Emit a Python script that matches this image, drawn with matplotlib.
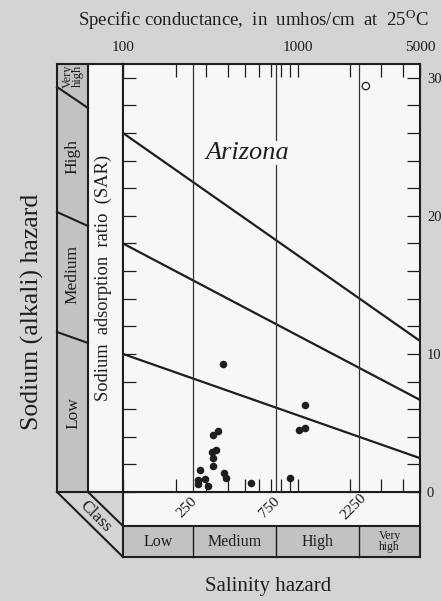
import matplotlib
matplotlib.use("Agg")
import matplotlib.pyplot as plt
from matplotlib.patches import Rectangle
from matplotlib.ticker import FixedLocator, FixedFormatter, NullFormatter

plt.rcParams['font.family'] = ['Liberation Serif', 'DejaVu Serif']
plt.rcParams['mathtext.fontset'] = 'custom'
plt.rcParams['mathtext.rm'] = 'Liberation Serif'

# samples: specific conductance (umhos/cm at 25C) and sodium adsorption ratio
cond = [372, 351, 329, 339, 324, 327, 327, 275, 377, 388, 267, 294, 270, 305,
        538, 1099, 1020, 1099, 902]
sar = [9.3, 4.4, 4.1, 3.05, 2.9, 2.45, 1.85, 1.6, 1.35, 1.05, 0.85, 0.95, 0.6, 0.45,
       0.65, 6.3, 4.5, 4.6, 1.0]
open_cond = [2450]
open_sar = [29.4]

# sodium hazard class boundaries, SAR at 100 and 5000 umhos
line_cond = [100, 5000]
line_sar = [[10.0, 2.45], [18.0, 6.67], [26.0, 10.94]]

# salinity hazard classes
class_bounds = [100, 250, 750, 2250, 5000]
class_labels = ['250', '750', '2250']
salinity_classes = ['Low', 'Medium', 'High', 'Very\nhigh']
sodium_classes = ['Very\nhigh', 'High', 'Medium', 'Low']

x_major = [100, 1000, 5000]
x_minor = [200, 300, 400, 500, 600, 700, 800, 900, 2000, 3000, 4000]
y_major = [0, 10, 20, 30]
y_minor = list(range(2, 31, 2))

BG = '#d4d4d4'
GRAY = '#c2c2c2'
WHITE = '#f7f7f7'
INK = '#1e1e1e'

fig = plt.figure(figsize=(4.42, 6.01), dpi=100, facecolor=BG)

# frame in pixel units for the box drawing around the chart
fr = fig.add_axes([0, 0, 1, 1])
fr.set_xlim(0, 442)
fr.set_ylim(601, 0)
fr.axis('off')
fr.add_patch(Rectangle((57, 64), 31, 428, fc=GRAY, ec='none'))
fr.add_patch(Rectangle((88, 64), 35, 428, fc=WHITE, ec='none'))
fr.add_patch(Rectangle((123, 492), 297, 34, fc=WHITE, ec='none'))
fr.add_patch(Rectangle((123, 526), 297, 31, fc=GRAY, ec='none'))
segs = [[(57, 64), (123, 64)], [(57, 64), (57, 492)], [(88, 64), (88, 492)],
        [(123, 64), (123, 557)], [(57, 492), (420, 492)], [(123, 526), (420, 526)],
        [(123, 557), (420, 557)], [(420, 492), (420, 557)],
        [(57, 492), (123, 557)], [(88, 492), (123, 526)],
        [(57, 87), (88, 108)], [(57, 212), (88, 226)], [(57, 332), (88, 343)]]
for s in segs:
    fr.plot([s[0][0], s[1][0]], [s[0][1], s[1][1]], color=INK, lw=1.5,
            solid_capstyle='projecting')

fr.text(253, 20, 'Specific conductance,  in  umhos/cm  at  25$^{\\rm O}$C',
        ha='center', va='center', fontsize=13.5, color=INK)
fr.text(32, 312, 'Sodium (alkali) hazard', rotation=90, ha='center', va='center',
        fontsize=18.5, color=INK)
fr.text(103, 278, 'Sodium  adsorption  ratio  (SAR)', rotation=90, ha='center',
        va='center', fontsize=13.3, color=INK)
fr.text(268, 587, 'Salinity hazard', ha='center', va='center', fontsize=15, color=INK)
fr.text(95, 517, 'Class', rotation=-45, ha='center', va='center', fontsize=12.5,
        color=INK)
sod_pos = [(73, 76), (72, 157), (72, 275), (73, 413)]
for lab, (px, py) in zip(sodium_classes, sod_pos):
    fr.text(px, py, lab, rotation=90, ha='center', va='center', color=INK,
            fontsize=9 if '\n' in lab else 12.5, linespacing=0.85)

# main chart
ax = fig.add_axes([123 / 442, 1 - 492 / 601, 297 / 442, 428 / 601])
ax.set_facecolor(WHITE)
ax.set_xscale('log')
ax.set_xlim(100, 5000)
ax.set_ylim(0, 31)

for s in line_sar:
    ax.plot(line_cond, s, color=INK, lw=1.6)
for c in class_bounds[1:-1]:
    ax.axvline(c, color='#333333', lw=0.9)

ax.scatter(cond, sar, s=30, color=INK, zorder=3, linewidths=0)
ax.scatter(open_cond, open_sar, s=28, facecolor='none', edgecolor=INK, lw=0.9, zorder=3)

ax.text(0.419, 0.792, 'Arizona', transform=ax.transAxes, ha='center', va='center',
        fontsize=19, style='italic', color=INK,
        bbox=dict(fc=WHITE, ec='none', pad=1))

# salinity class labels below the chart
xt = ax.get_xaxis_transform()
for c, lab in zip(class_bounds[1:-1], class_labels):
    ax.annotate(lab, xy=(c, 0), xycoords=xt, xytext=(-6, -15), textcoords='offset pixels',
                rotation=45, ha='center', va='center', fontsize=11, color=INK)
for i, lab in enumerate(salinity_classes):
    xc = (class_bounds[i] * class_bounds[i + 1]) ** 0.5
    ax.text(xc, -0.116, lab, transform=xt, ha='center', va='center', color=INK,
            fontsize=8.5 if '\n' in lab else 11.5, linespacing=0.85, clip_on=False)
    if i > 0:
        ax.plot([class_bounds[i]] * 2, [-0.0794, -0.152], transform=xt, color=INK,
                lw=1.0, clip_on=False)

ax.xaxis.set_major_locator(FixedLocator(x_major))
ax.xaxis.set_major_formatter(FixedFormatter([str(v) for v in x_major]))
ax.xaxis.set_minor_locator(FixedLocator(x_minor))
ax.xaxis.set_minor_formatter(NullFormatter())
ax.yaxis.set_major_locator(FixedLocator(y_major))
ax.yaxis.set_minor_locator(FixedLocator(y_minor))
ax.yaxis.set_minor_formatter(NullFormatter())
ax.tick_params(axis='x', which='both', direction='in', top=True, bottom=True,
               labeltop=True, labelbottom=False, length=9.5, width=0.9, pad=7,
               labelsize=11, colors=INK)
ax.tick_params(axis='y', which='both', direction='in', left=True, right=True,
               labelleft=False, labelright=True, length=9.5, width=0.9, pad=5,
               labelsize=10.5, colors=INK)
for sp in ax.spines.values():
    sp.set_linewidth(1.5)
    sp.set_color(INK)

fig.savefig('out.png', dpi=100, facecolor=BG)
